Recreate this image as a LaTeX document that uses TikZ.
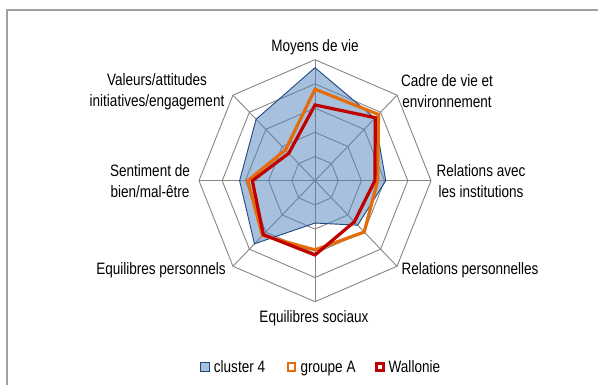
\documentclass[tikz,border=0pt]{standalone}
\usepackage{fontspec}
\setmainfont{Liberation Sans}[FakeStretch=0.82]
\usetikzlibrary{positioning}

\definecolor{gridgray}{RGB}{134,134,134}
\definecolor{framegray}{RGB}{160,160,160}
\definecolor{clusterblue}{RGB}{79,129,189}
\definecolor{clusteredge}{RGB}{31,73,125}
\definecolor{groupeorange}{RGB}{228,108,10}
\definecolor{wallred}{RGB}{192,0,0}

\tikzset{
  gridline/.style={gridgray, line width=0.9pt},
  serieline/.style={line width=3.2pt, line join=miter},
  axislabel/.style={align=center, inner sep=0pt},
  legbox/.style={minimum size=9pt, inner sep=0pt},
  legtext/.style={inner sep=0pt, text height=11pt, text depth=1pt},
}

\begin{document}
\begin{tikzpicture}[x=1pt, y=-1pt, font=\fontsize{16.5}{21}\selectfont]

  \useasboundingbox (0,0) rectangle (598,385);
  \draw[framegray, line width=1.3pt] (7,400)--(7,10)--(610,10);

  \begin{scope}[shift={(315,180.7)}, x=23.2pt, y=24.2pt]
    % rings and spokes
    \draw[gridline] (90:1)--(45:1)--(0:1)--(-45:1)--(-90:1)--(-135:1)--(180:1)--(135:1)--cycle;
    \draw[gridline] (90:2)--(45:2)--(0:2)--(-45:2)--(-90:2)--(-135:2)--(180:2)--(135:2)--cycle;
    \draw[gridline] (90:3)--(45:3)--(0:3)--(-45:3)--(-90:3)--(-135:3)--(180:3)--(135:3)--cycle;
    \draw[gridline] (90:4)--(45:4)--(0:4)--(-45:4)--(-90:4)--(-135:4)--(180:4)--(135:4)--cycle;
    \draw[gridline] (90:5)--(45:5)--(0:5)--(-45:5)--(-90:5)--(-135:5)--(180:5)--(135:5)--cycle;
    \draw[gridline] (90:5)--(-90:5);
    \draw[gridline] (45:5)--(-135:5);
    \draw[gridline] (0:5)--(180:5);
    \draw[gridline] (-45:5)--(135:5);

    % cluster 4
    \fill[clusterblue, fill opacity=0.5] (90:4.67)--(45:3.65)--(0:3.05)--(-45:2.6)--(-90:1.75)--(-135:3.69)--(180:3.25)--(135:3.59)--cycle;
    \draw[clusteredge, line width=0.9pt] (90:4.67)--(45:3.65)--(0:3.05)--(-45:2.6)--(-90:1.75)--(-135:3.69)--(180:3.25)--(135:3.59)--cycle;

    % groupe A
    \draw[serieline, groupeorange] (90:3.78)--(45:3.87)--(0:2.7)--(-45:3.0)--(-90:2.86)--(-135:3.2)--(180:2.9)--(135:1.8)--cycle;

    % Wallonie
    \draw[serieline, wallred] (90:3.13)--(45:3.68)--(0:2.58)--(-45:2.4)--(-90:3.07)--(-135:3.15)--(180:2.7)--(135:1.6)--cycle;
  \end{scope}

  \node[axislabel, anchor=base] (moyens) at (315,52) {Moyens de vie};
  \node[axislabel] (cadre) at (447,91.5) {Cadre de vie et\\environnement};
  \node[axislabel] (relinst) at (481,181) {Relations avec\\les institutions};
  \node[axislabel, anchor=base] (relpers) at (470,275) {Relations personnelles};
  \node[axislabel, anchor=base] (eqsoc) at (314,323) {Equilibres sociaux};
  \node[axislabel, anchor=base] (eqpers) at (161,275) {Equilibres personnels};
  \node[axislabel] (sentiment) at (150,181) {Sentiment de\\bien/mal-être};
  \node[axislabel] (valeurs) at (157,92) {Valeurs/attitudes\\initiatives/engagement};

  % legend
  \node[legbox, fill=clusterblue!50, draw=clusteredge, line width=0.9pt] (boxcluster) at (205.3,367) {};
  \node[legtext, right=3.5pt of boxcluster] (txtcluster) {cluster 4};
  \node[legbox, fill=white, draw=groupeorange, line width=2.4pt, minimum size=7.5pt] (boxgroupe) at (291.5,367) {};
  \node[legtext, right=4pt of boxgroupe] (txtgroupe) {groupe A};
  \node[legbox, fill=white, draw=wallred, line width=3pt, minimum size=7pt] (boxwall) at (379.5,367) {};
  \node[legtext, right=4pt of boxwall] (txtwall) {Wallonie};

\end{tikzpicture}
\end{document}
